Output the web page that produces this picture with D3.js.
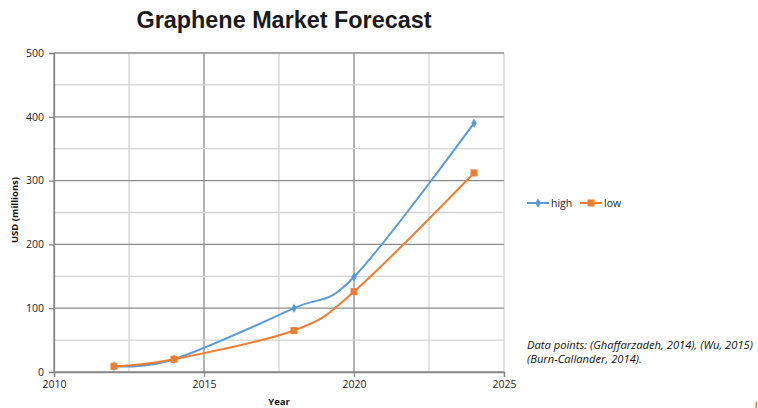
<!DOCTYPE html>
<html>
<head>
<meta charset="utf-8">
<script src="https://cdn.jsdelivr.net/npm/d3@7"></script>
<style>
  html, body { margin: 0; padding: 0; background: #fff; }
  svg { display: block; }
  text { font-family: "Open Sans", "Liberation Sans", sans-serif; }
</style>
</head>
<body>
<svg id="chart" width="758" height="408"></svg>
<script>
// Forecast values, USD millions
const years = [2012, 2014, 2018, 2020, 2024];
const highValues = [9, 20, 100, 149, 390];
const lowValues = [9, 20, 65, 126, 312];
const seriesNames = ["high", "low"];
const xTicks = [2010, 2015, 2020, 2025];
const yTicks = [0, 100, 200, 300, 400, 500];
const noteLines = ["Data points: (Ghaffarzadeh, 2014), (Wu, 2015)", "(Burn-Callander, 2014)."];

const svg = d3.select("#chart");
const colors = { high: "#5B9BD5", low: "#ED7D31" };

const x = d3.scaleLinear().domain([2010, 2025]).range([54, 504]);
const y = d3.scaleLinear().domain([0, 500]).range([372, 53]);

// Gridlines: minor every 2.5 years / 50 units, major on the labelled ticks
const minorX = d3.range(2010, 2025.01, 2.5);
const minorY = d3.range(0, 500.01, 50);
const grid = svg.append("g");
grid.selectAll(".vx").data(minorX).join("line")
  .attr("x1", d => x(d)).attr("x2", d => x(d))
  .attr("y1", y(0)).attr("y2", y(500))
  .attr("stroke", d => (d % 5 === 0 && d !== 2025) ? "#8c8c8c" : "#d4d4d4")
  .attr("stroke-width", 1.3);
grid.selectAll(".hy").data(minorY).join("line")
  .attr("x1", x(2010)).attr("x2", x(2025))
  .attr("y1", d => y(d)).attr("y2", d => y(d))
  .attr("stroke", d => d % 100 === 0 ? "#8c8c8c" : "#d4d4d4")
  .attr("stroke-width", 1.3);

// Axes
const xAxis = d3.axisBottom(x).tickValues(xTicks).tickFormat(d3.format("d")).tickSize(5).tickPadding(4);
const yAxis = d3.axisLeft(y).tickValues(yTicks).tickSize(5).tickPadding(5);
const gx = svg.append("g").attr("transform", `translate(0,${y(0)})`).call(xAxis);
const gy = svg.append("g").attr("transform", `translate(${x(2010)},0)`).call(yAxis);
[gx, gy].forEach(g => {
  g.select(".domain").attr("stroke", "#868686").attr("stroke-width", 1.3);
  g.selectAll(".tick line").attr("stroke", "#868686").attr("stroke-width", 1.3);
  g.selectAll(".tick text").attr("fill", "#222").style("font-size", "10.5px")
    .style("font-family", "'Open Sans', sans-serif");
});

// Series lines
const line = d3.line().curve(d3.curveCatmullRom.alpha(0))
  .x(d => x(d[0])).y(d => y(d[1]));
const series = [
  { name: "high", values: highValues },
  { name: "low", values: lowValues }
];
series.forEach(s => {
  const pts = years.map((yr, i) => [yr, s.values[i]]);
  svg.append("path").datum(pts)
    .attr("d", line).attr("fill", "none")
    .attr("stroke", colors[s.name]).attr("stroke-width", 2);
});

// Markers
const diamond = d3.symbol().type(d3.symbolDiamond).size(26);
svg.append("g").selectAll("path").data(years.map((yr, i) => [yr, highValues[i]])).join("path")
  .attr("d", diamond)
  .attr("transform", d => `translate(${x(d[0])},${y(d[1])})`)
  .attr("fill", colors.high);
svg.append("g").selectAll("rect").data(years.map((yr, i) => [yr, lowValues[i]])).join("rect")
  .attr("x", d => x(d[0]) - 3.5).attr("y", d => y(d[1]) - 3.5)
  .attr("width", 7).attr("height", 7)
  .attr("fill", colors.low);

// Title
svg.append("text").attr("x", 284).attr("y", 28).attr("text-anchor", "middle")
  .style("font-family", "'Liberation Sans', Arial, sans-serif")
  .style("font-weight", "bold").style("font-size", "23.4px").attr("fill", "#1a1a1a")
  .text("Graphene Market Forecast");

// Axis titles
svg.append("text").attr("x", 279).attr("y", 405).attr("text-anchor", "middle")
  .style("font-weight", "bold").style("font-size", "9.5px").attr("fill", "#111")
  .text("Year");
svg.append("text").attr("transform", "translate(18,210) rotate(-90)").attr("text-anchor", "middle")
  .style("font-weight", "bold").style("font-size", "9.5px").attr("fill", "#111")
  .text("USD (millions)");

// Legend
const legend = svg.append("g");
const legendX = [527, 580];
seriesNames.forEach((name, i) => {
  const lx = legendX[i];
  const g = legend.append("g");
  g.append("line").attr("x1", lx).attr("x2", lx + 22).attr("y1", 203).attr("y2", 203)
    .attr("stroke", colors[name]).attr("stroke-width", 2);
  if (name === "high") {
    g.append("path").attr("d", diamond).attr("transform", `translate(${lx + 11},203)`)
      .attr("fill", colors[name]);
  } else {
    g.append("rect").attr("x", lx + 7.5).attr("y", 199.5).attr("width", 7).attr("height", 7)
      .attr("fill", colors[name]);
  }
  g.append("text").attr("x", lx + 24).attr("y", 207)
    .style("font-size", "10.5px").attr("fill", "#222").text(name);
});

// Source note
svg.append("g").selectAll("text").data(noteLines).join("text")
  .attr("x", 527).attr("y", (d, i) => 349 + i * 14)
  .style("font-style", "italic").style("font-size", "11.2px").attr("fill", "#111")
  .text(d => d);

// Small orange mark at the bottom-right edge
svg.append("rect").attr("x", 755.5).attr("y", 402).attr("width", 1.5).attr("height", 6)
  .attr("fill", "#ED7D31");
</script>
</body>
</html>
